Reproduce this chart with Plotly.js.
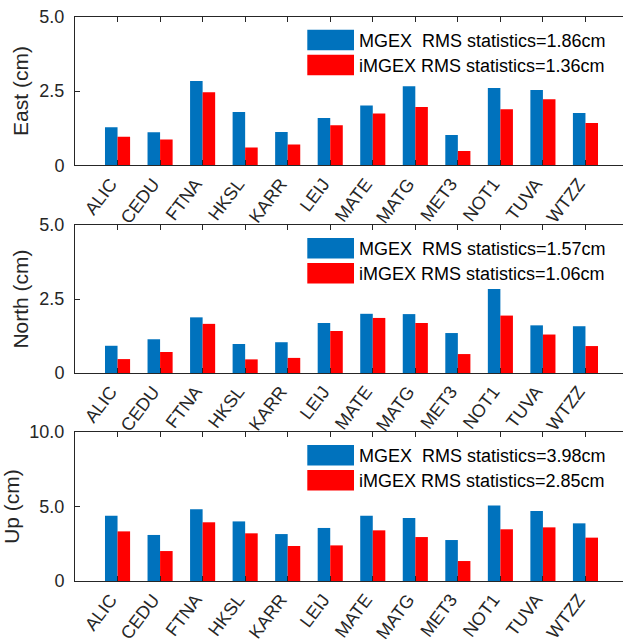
<!DOCTYPE html>
<html>
<head>
<meta charset="utf-8">
<script src="https://cdn.plot.ly/plotly-3.0.1.min.js"></script>
<style>
html, body { margin: 0; padding: 0; overflow: hidden; background: #fff; }
#chart { width: 630px; height: 642px; }
</style>
</head>
<body>
<div id="chart"></div>
<script>
// ---- data ----
const stations = ['ALIC','CEDU','FTNA','HKSL','KARR','LEIJ','MATE','MATG','MET3','NOT1','TUVA','WTZZ'];

const eastMGEX  = [1.28, 1.11, 2.84, 1.79, 1.12, 1.59, 2.01, 2.66, 1.02, 2.60, 2.53, 1.76];
const eastIMGEX = [0.96, 0.87, 2.46, 0.60, 0.70, 1.35, 1.74, 1.96, 0.48, 1.89, 2.22, 1.42];

const northMGEX  = [0.92, 1.14, 1.88, 0.98, 1.04, 1.69, 2.00, 1.99, 1.35, 2.84, 1.61, 1.58];
const northIMGEX = [0.47, 0.71, 1.66, 0.46, 0.51, 1.42, 1.86, 1.69, 0.64, 1.94, 1.30, 0.91];

const upMGEX  = [4.38, 3.09, 4.81, 4.00, 3.15, 3.56, 4.38, 4.23, 2.75, 5.06, 4.70, 3.87];
const upIMGEX = [3.33, 2.01, 3.94, 3.20, 2.35, 2.39, 3.40, 2.95, 1.34, 3.47, 3.60, 2.91];

const componentTitles = ['East (cm)', 'North (cm)', 'Up (cm)'];
const mgexRms  = ['1.86', '1.57', '3.98'];
const imgexRms = ['1.36', '1.06', '2.85'];

const yTickVals = [[0, 2.5, 5], [0, 2.5, 5], [0, 5, 10]];
const yTickText = [['0', '2.5', '5.0'], ['0', '2.5', '5.0'], ['0', '5.0', '10.0']];
const yMax = [5, 5, 10];

// ---- styles ----
const W = 630, H = 642;
const ML = 75, MR = 2;
const BLUE = '#0072BD', RED = '#FF0000', AX = '#262626';
const FONT = '"Liberation Sans", Arial, Helvetica, sans-serif';
// panel pixel extents (top, bottom)
const panelPx = [[16.7, 165.3], [225, 373], [432, 581]];

const mgexSeries = [eastMGEX, northMGEX, upMGEX];
const imgexSeries = [eastIMGEX, northIMGEX, upIMGEX];

const traces = [];
const layout = {
  width: W, height: H,
  margin: {l: ML, r: MR, t: 0, b: 0},
  paper_bgcolor: '#fff', plot_bgcolor: '#fff',
  barmode: 'group', bargap: 0.41, bargroupgap: 0,
  showlegend: false,
  font: {family: FONT, size: 18, color: AX},
  shapes: [], annotations: []
};

const px2py = p => 1 - p / H;
const px2pxr = p => (p - ML) / (W - ML - MR);

for (let i = 0; i < 3; i++) {
  const sfx = i === 0 ? '' : String(i + 1);
  traces.push({type: 'bar', x: stations, y: mgexSeries[i], xaxis: 'x' + sfx, yaxis: 'y' + sfx,
    marker: {color: BLUE, line: {width: 0}}, name: 'MGEX'});
  traces.push({type: 'bar', x: stations, y: imgexSeries[i], xaxis: 'x' + sfx, yaxis: 'y' + sfx,
    marker: {color: RED, line: {width: 0}}, name: 'iMGEX'});

  const [top, bot] = panelPx[i];
  layout['xaxis' + sfx] = {
    type: 'category', anchor: 'y' + sfx, domain: [0, 1],
    range: [-1, 12], categoryorder: 'array', categoryarray: stations,
    showline: true, mirror: 'ticks', linecolor: AX, linewidth: 1,
    ticks: 'inside', ticklen: 5, tickcolor: AX, tickwidth: 1,
    tickangle: -53, ticklabelshift: -7, ticklabelstandoff: 0,
    tickfont: {family: FONT, size: 18, color: AX},
    showgrid: false, zeroline: false, fixedrange: true
  };
  layout['yaxis' + sfx] = {
    anchor: 'x' + sfx, domain: [px2py(bot), px2py(top)],
    range: [0, yMax[i]], tickmode: 'array', tickvals: yTickVals[i], ticktext: yTickText[i],
    showline: true, mirror: 'ticks', linecolor: AX, linewidth: 1,
    ticks: 'inside', ticklen: 5, tickcolor: AX, tickwidth: 1,
    ticklabelstandoff: 6,
    tickfont: {family: FONT, size: 18, color: AX},
    showgrid: false, zeroline: false, fixedrange: true,
    title: {text: componentTitles[i], font: {family: FONT, size: 21, color: AX}, standoff: 5}
  };

  // custom legend (swatches + text)
  const sw = [[top + 13, top + 33.5, BLUE, 'MGEX\u00A0 RMS statistics=' + mgexRms[i] + 'cm'],
              [top + 38, top + 58.5, RED, 'iMGEX RMS statistics=' + imgexRms[i] + 'cm']];
  sw.forEach(([y0, y1, col, txt]) => {
    layout.shapes.push({type: 'rect', xref: 'paper', yref: 'paper',
      x0: px2pxr(307.3), x1: px2pxr(354), y0: px2py(y1), y1: px2py(y0),
      fillcolor: col, line: {width: 0}, layer: 'above'});
    layout.annotations.push({xref: 'paper', yref: 'paper', x: px2pxr(356.5), y: px2py((y0 + y1) / 2 + 1),
      xanchor: 'left', yanchor: 'middle', showarrow: false, text: txt,
      font: {family: FONT, size: 18, color: '#000'}});
  });
}

Plotly.newPlot('chart', traces, layout, {staticPlot: true, displayModeBar: false});
</script>
</body>
</html>
